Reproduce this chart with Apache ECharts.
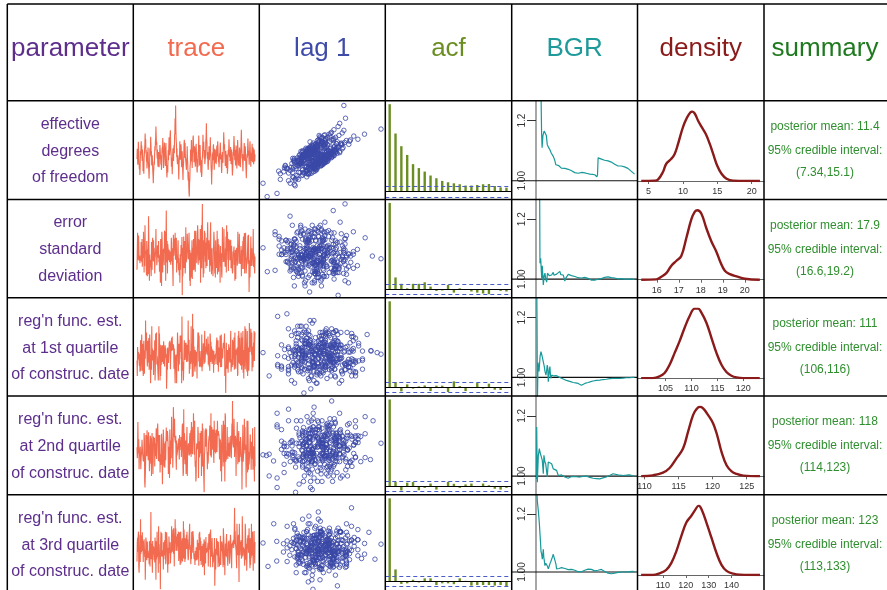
<!DOCTYPE html>
<html>
<head>
<meta charset="utf-8">
<script src="https://cdn.jsdelivr.net/npm/echarts@6/dist/echarts.min.js"></script>
<style>
  html, body { margin: 0; padding: 0; background: #fff; }
  #chart { width: 887px; height: 590px; }
</style>
</head>
<body>
<div id="chart"></div>
<script>
// ---- text content ----
const headers = ['parameter', 'trace', 'lag 1', 'acf', 'BGR', 'density', 'summary'];
const paramLabels = [
  ['effective', 'degrees', 'of freedom'],
  ['error', 'standard', 'deviation'],
  ["reg'n func. est.", 'at 1st quartile', 'of construc. date'],
  ["reg'n func. est.", 'at 2nd quartile', 'of construc. date'],
  ["reg'n func. est.", 'at 3rd quartile', 'of construc. date']
];
const postMean = ['11.4', '17.9', '111', '118', '123'];
const credInt = ['(7.34,15.1)', '(16.6,19.2)', '(106,116)', '(114,123)', '(113,133)'];

// ---- MCMC draws (thinned) ----
const traceDf = [
11.2,12.8,12.5,10.3,11.0,13.9,13.1,11.2,11.0,9.6,
10.1,8.7,9.9,12.4,11.8,12.1,14.0,12.6,13.3,11.4,
10.9,12.7,11.6,9.3,10.0,10.6,8.9,11.3,12.0,11.7,
13.5,15.2,13.8,14.3,12.1,12.6,10.8,11.5,9.7,10.4,
12.3,11.9,13.0,11.1,11.4,9.2,8.1,9.8,10.5,12.9,
11.6,12.2,14.7,13.6,11.9,12.4,10.2,10.9,11.8,10.7,
9.4,8.6,7.4,8.9,9.1,10.8,10.3,11.9,13.2,12.5,
13.9,14.4,16.3,14.8,13.4,13.9,12.0,11.3,12.7,10.6,
10.0,11.5,12.3,10.4,9.9,11.6,11.2,13.4,12.8,12.9,
11.1,10.3,11.8,9.5,10.2,12.4,13.0,12.2,14.5,13.1,
11.7,9.8,10.6,12.0,13.8,14.1,12.3,11.6,10.1,12.5,
13.7,11.9,11.2,9.0,8.3,9.7,10.2,9.1,11.3,12.6,
11.0,13.1,14.6,12.2,11.8,13.3,15.1,15.7,13.5,12.4,
11.9,10.0,11.4,10.8,8.8,10.5,12.2,12.9,11.3,10.9,
12.8,13.4,12.1,14.9,15.3,17.6,15.1,19.6,15.9,14.2,
13.6,11.5,12.9,10.9,10.4,11.8,12.0,10.7,9.6,8.0,
10.2,11.4,12.2,14.0,12.4,11.1,12.6,13.5,13.1,10.8,
9.9,10.6,12.4,10.5,9.2,7.9,9.8,10.4,11.7,13.6,
14.2,13.6,11.4,13.7,11.6,11.2,11.5,10.1,9.5,10.9,
11.3,13.2,11.2,10.6,8.4,7.8,9.2,7.0,5.8,5.3,
7.4,8.0,10.1,10.5,12.7,10.8,12.0,14.2,12.3,11.7,
9.8,11.9,12.4,14.5,14.9,13.5,12.9,10.7,12.8,13.2,
12.6,10.6,10.0,10.8,12.9,13.6,12.2,11.6,9.6,9.1,
10.6,11.2,10.0,12.2,12.7,14.9,12.8,12.3,10.2,11.5,
13.4,11.6,10.9,9.1,11.0,8.9,8.4,9.0,11.0,11.5,
12.8,15.0,13.0,12.5,13.9,11.8,11.3,12.6,10.4,10.1,
11.4,11.9,14.1,14.6,16.8,14.3,13.9,11.7,11.2,12.3,
10.1,9.5,10.9,11.3,13.2,11.0,10.7,11.9,12.5,14.6,
12.4,11.9,9.8,9.1,7.2,9.3,9.7,11.8,12.2,11.0,
13.1,13.5,12.0,11.7,9.5,11.4,12.8,10.6,12.6,11.5,
12.0,10.4,10.9,12.7,13.3,11.6,12.4,14.0,13.2,11.8,
10.7,11.3,9.9,10.5,12.1,11.2,12.9,13.8,12.5,11.1,
11.9,10.2,9.0,9.9,11.4,12.3,11.0,10.6,12.2,13.6,
15.4,14.1,12.8,13.5,12.0,11.2,10.1,11.7,12.5,11.4,
9.8,10.5,11.9,10.8,8.9,9.6,11.0,12.6,11.8,12.9,
14.3,13.0,11.5,12.2,10.9,11.6,13.1,12.0,10.4,11.1,
12.7,11.5,10.0,8.6,9.4,10.7,12.3,11.7,13.4,14.8,
13.7,12.2,11.0,12.6,11.3,10.2,11.9,13.3,12.1,10.8,
9.7,10.9,12.8,14.2,12.9,11.6,10.3,11.5,10.1,11.8,
13.0,12.4,11.2,9.9,10.8,12.5,13.9,15.8,14.0,12.6,
11.3,12.0,10.6,9.3,10.7,11.9,11.1,12.4,13.7,12.3,
10.9,11.8,13.2,12.1,10.5,9.4,8.2,9.7,11.2,12.0,
11.4,12.9,14.4,13.1,11.7,12.5,11.0,10.3,11.6,12.8,
14.0,12.6,11.3,10.0,11.5,12.2,10.9,12.4,13.6,12.1,
10.7,11.9,13.0,11.6,10.4,11.2,12.7,11.5,10.8,11.9
];
const traceSd = [
17.20,17.23,18.85,18.16,17.65,18.73,18.44,17.60,17.71,17.84,
17.49,17.79,17.71,17.60,18.44,17.91,17.53,18.57,17.33,18.27,
18.24,17.72,18.90,18.35,17.07,18.04,17.36,19.19,17.89,17.81,
18.06,17.42,16.95,18.49,18.15,16.90,17.53,18.11,16.99,19.60,
18.63,17.53,16.70,17.88,17.47,17.64,17.38,17.28,16.90,18.44,
18.52,17.20,18.47,18.63,17.92,17.60,18.52,17.56,18.18,17.86,
17.03,17.71,17.81,18.08,19.02,17.91,18.04,17.40,17.58,18.29,
17.96,18.06,17.74,18.49,17.53,17.88,17.11,17.28,17.83,16.61,
18.57,17.07,17.51,16.47,18.90,18.60,17.38,17.07,17.99,18.06,
18.15,17.84,17.40,18.95,18.73,17.97,18.90,16.70,18.49,19.85,
17.81,17.53,18.49,17.03,18.35,18.18,18.06,17.62,17.81,18.09,
17.53,17.86,18.01,17.88,17.42,17.69,18.63,18.42,17.58,18.16,
17.51,17.14,16.47,18.77,18.81,17.83,18.15,18.60,18.18,18.85,
17.64,18.08,17.64,18.63,17.07,17.83,17.79,17.49,18.15,18.52,
17.17,17.72,17.67,16.95,17.49,16.61,17.89,17.20,17.14,18.31,
18.29,17.83,18.66,16.05,18.18,16.90,17.58,17.99,18.69,17.28,
17.88,18.49,17.94,17.03,17.36,19.10,17.53,17.54,17.47,17.74,
18.81,18.27,17.96,18.15,17.67,18.42,18.85,18.06,16.70,18.08,
16.47,17.17,17.56,17.96,16.85,17.88,18.52,16.78,18.18,17.94,
17.17,18.57,17.20,18.24,17.92,18.95,17.23,17.11,18.08,18.95,
17.76,18.06,17.49,17.96,18.04,19.19,18.90,17.42,18.57,18.11,
18.15,17.62,18.54,17.51,19.02,16.61,18.69,17.76,19.19,17.26,
18.90,20.15,17.69,17.92,16.85,18.52,17.03,18.33,18.95,17.83,
18.85,17.56,18.42,17.26,17.74,18.11,18.63,17.36,18.73,19.33,
18.11,18.47,17.64,18.52,17.96,17.78,17.11,18.26,18.20,19.33,
17.38,17.88,16.99,18.16,17.17,17.53,17.42,16.90,18.15,18.26,
18.90,18.57,17.84,17.03,17.99,16.85,18.52,17.42,17.28,17.47,
17.65,18.95,16.99,17.14,18.57,18.49,17.11,18.33,17.91,17.53,
17.76,16.61,18.26,17.33,17.71,17.94,17.11,16.85,17.99,19.10,
17.81,18.11,17.54,17.88,19.02,17.89,17.56,17.71,17.33,18.15,
17.78,18.69,17.07,19.19,18.01,18.16,18.90,17.64,17.84,17.14,
18.57,18.35,18.15,18.52,17.62,18.42,18.20,18.54,17.26,17.94,
18.27,17.36,17.33,17.03,17.20,18.01,17.88,18.01,18.24,17.42,
17.84,16.70,17.88,18.09,16.78,17.97,17.60,18.18,17.88,17.38,
17.62,18.90,18.08,18.29,18.08,17.45,18.81,17.76,17.51,17.69,
17.45,18.04,18.26,16.90,18.08,18.13,17.23,18.04,18.49,18.33,
18.69,17.23,17.36,18.85,17.03,18.11,18.52,18.85,17.97,17.03,
17.28,17.23,17.67,17.79,18.20,18.73,17.47,18.77,17.67,16.20,
17.11,17.62,16.85,17.56,17.97,18.69,17.36,17.84,18.16,17.38,
17.71,17.76,17.84,19.02,17.33,17.76,17.92,17.26,17.03,17.79
];
const traceQ1 = [
109.9,106.9,112.5,112.4,110.1,111.5,111.6,111.6,108.8,111.2,
107.7,109.0,113.8,107.9,112.6,113.3,114.9,109.4,107.9,113.1,
109.8,106.9,107.9,113.7,110.9,107.3,110.6,111.8,110.2,117.6,
111.8,112.7,115.3,112.2,110.1,108.7,113.7,112.8,109.5,109.2,
114.2,108.1,109.5,114.9,113.3,113.5,105.5,108.8,111.0,108.1,
116.5,109.9,112.2,109.9,111.8,110.6,107.1,111.4,111.9,109.7,
113.8,106.0,108.2,115.1,115.1,111.9,115.3,109.1,110.8,110.2,
108.8,107.3,106.0,108.6,116.5,111.7,115.1,110.2,106.0,112.9,
106.9,110.3,109.0,112.4,112.8,109.6,109.8,112.8,112.8,109.2,
113.6,112.2,110.9,108.7,110.8,112.8,112.3,110.4,111.1,109.8,
104.4,106.9,112.2,108.1,112.4,110.7,109.4,110.1,111.7,113.4,
112.9,113.7,112.9,108.2,110.5,112.8,112.9,114.2,111.7,114.5,
112.6,111.9,112.4,113.0,112.5,108.3,112.2,110.6,107.7,105.5,
109.1,111.0,111.2,110.6,105.5,110.8,111.3,115.3,113.7,110.2,
107.8,111.0,113.1,109.1,113.1,112.2,114.7,111.5,114.7,110.1,
110.5,105.5,118.4,111.4,107.9,109.0,109.6,106.0,108.8,111.7,
113.8,110.4,110.0,110.5,113.3,111.6,113.3,110.1,109.6,112.9,
110.8,112.4,109.7,117.6,111.7,111.1,113.9,107.3,109.0,108.2,
111.0,111.7,109.2,116.5,110.2,109.6,113.0,106.7,118.9,111.1,
106.9,116.0,109.8,112.6,109.6,108.5,107.7,111.9,108.7,111.6,
109.7,111.5,109.5,106.4,112.0,112.8,115.3,114.5,115.3,109.7,
114.7,108.7,111.7,108.6,110.3,108.8,109.8,111.7,108.6,114.9,
107.8,111.1,108.7,111.3,113.2,112.7,110.8,109.2,113.1,115.6,
109.5,111.0,111.4,112.6,111.1,114.1,111.5,111.2,112.5,110.9,
114.5,109.1,113.1,110.3,108.7,109.7,107.9,115.1,114.5,109.6,
113.5,110.1,112.6,110.1,109.2,110.4,112.0,112.1,110.6,107.5,
111.7,109.0,110.3,111.0,110.8,110.3,111.2,109.2,112.6,112.4,
114.3,112.4,109.0,113.1,113.8,107.7,110.6,112.4,109.5,112.4,
111.2,114.7,108.6,108.6,111.8,114.9,108.6,112.2,111.2,110.3,
110.8,112.7,113.3,113.6,112.2,112.1,115.1,106.9,108.2,108.9,
103.6,111.4,113.3,109.5,108.3,111.2,111.9,111.4,107.5,109.5,
113.0,111.5,112.4,110.0,109.5,111.5,113.0,115.6,107.7,108.6,
110.1,110.2,108.6,113.9,109.0,110.8,113.6,110.4,114.3,108.1,
109.2,115.3,110.0,109.7,108.3,112.0,111.0,111.5,111.2,112.4,
106.9,107.3,114.7,109.5,115.6,114.2,109.3,114.2,109.2,111.3,
108.9,108.8,115.3,111.7,108.1,108.1,114.3,109.0,115.6,107.5,
111.9,106.4,110.6,108.7,108.4,116.5,108.2,111.8,116.0,112.7,
112.9,108.2,107.7,115.6,106.9,108.7,112.4,112.5,107.9,110.0,
117.1,114.9,111.5,113.5,112.5,116.0,113.2,111.0,115.3,107.8,
111.6,112.6,108.6,109.8,113.3,111.7,115.6,109.8,113.7,115.3
];
const traceQ2 = [
118.0,116.4,117.7,121.7,118.3,117.1,119.2,114.8,116.8,116.6,
117.6,118.1,116.3,114.8,116.5,117.0,117.7,119.1,118.0,117.1,
116.6,116.0,116.9,115.9,120.1,119.3,113.0,112.1,113.8,115.5,
119.8,117.3,119.6,116.7,120.5,118.5,119.6,117.0,116.1,120.2,
120.1,117.6,114.5,115.9,115.9,119.7,119.2,115.6,119.4,113.8,
118.6,120.1,118.2,118.0,114.1,116.7,119.6,118.3,119.1,119.4,
115.2,118.6,118.4,116.7,118.8,120.8,116.3,118.2,119.8,119.6,
121.5,119.6,116.0,118.4,119.8,115.9,118.4,119.8,114.3,117.0,
115.9,115.4,116.6,120.0,119.0,115.5,112.6,116.0,116.6,120.6,
119.0,115.2,116.0,118.6,115.0,116.2,118.9,116.1,116.0,120.9,
119.3,120.1,118.9,120.4,119.6,118.6,114.1,118.1,117.1,117.2,
113.5,120.6,117.9,115.5,118.1,119.0,116.4,122.5,119.6,119.4,
117.9,115.0,117.2,123.9,121.9,121.9,119.5,122.2,119.2,119.0,
118.7,119.7,116.4,114.7,119.0,116.8,117.1,117.1,117.9,118.6,
117.7,119.3,117.3,116.2,119.8,118.1,118.1,119.0,117.6,119.5,
116.6,117.8,118.8,121.2,121.5,116.1,113.8,114.3,123.6,116.2,
120.1,119.5,115.5,118.6,119.0,116.8,114.1,117.1,119.4,121.0,
113.8,117.1,116.8,118.1,118.6,118.6,118.4,116.8,119.4,120.1,
117.0,117.0,120.5,116.6,121.7,117.1,121.0,119.7,117.0,117.0,
120.1,123.0,120.0,119.6,116.9,121.9,116.5,115.1,116.0,113.0,
113.5,117.7,118.6,117.7,118.2,117.8,121.0,120.2,113.5,118.9,
116.5,116.3,116.8,120.1,118.2,117.1,117.8,120.4,113.8,118.1,
118.7,121.5,115.2,120.8,115.9,115.1,115.1,111.4,116.9,117.3,
120.2,120.6,118.1,120.8,118.9,120.6,118.2,117.0,114.8,117.3,
115.6,116.1,118.7,119.3,119.7,119.0,121.2,117.9,116.8,117.1,
123.0,116.5,117.1,121.0,117.6,120.6,118.3,117.8,120.6,116.9,
115.7,121.9,118.7,120.5,117.3,120.1,117.1,117.3,120.6,118.6,
117.3,118.1,121.9,119.7,120.1,120.4,119.7,120.0,118.2,116.2,
119.3,116.3,119.1,114.5,118.7,116.8,113.0,121.3,119.8,119.7,
118.7,115.2,121.9,121.0,121.3,115.8,117.6,113.0,123.0,122.5,
115.9,116.7,116.2,117.0,117.7,121.0,117.7,116.3,118.2,118.6,
116.7,119.5,119.3,117.1,116.6,118.7,118.0,119.7,118.4,116.4,
119.2,121.5,119.2,124.8,118.6,118.4,118.0,119.0,122.2,119.7,
116.6,119.4,117.4,119.7,118.8,113.8,118.2,118.3,119.6,121.7,
118.4,115.5,120.1,115.9,120.4,116.5,115.8,118.9,116.6,117.6,
119.5,119.0,117.4,116.0,117.0,111.8,116.8,118.6,121.3,115.9,
115.9,117.5,117.1,122.2,118.7,121.0,117.6,118.4,116.8,112.1,
117.0,117.6,121.9,116.6,114.3,121.9,118.8,114.7,117.3,115.5,
116.3,116.7,118.7,119.9,117.6,118.0,114.7,118.8,116.3,117.3,
116.8,120.8,114.7,118.2,116.0,118.1,118.1,113.0,121.0,115.2
];
const traceQ3 = [
117.8,126.2,128.0,121.9,128.9,130.7,115.7,113.0,117.8,121.8,
129.4,117.6,136.1,121.0,129.1,121.9,125.3,123.1,130.4,122.3,
126.7,117.6,124.4,125.2,127.4,127.8,119.8,122.8,109.9,118.0,
128.2,126.9,121.9,118.4,123.4,126.4,119.3,122.4,122.3,119.5,
121.4,116.6,126.5,121.6,115.7,126.9,122.3,139.2,118.8,125.6,
123.7,118.2,113.0,126.7,118.4,121.5,124.4,124.6,124.5,120.8,
117.4,128.2,124.1,120.4,109.9,126.5,118.8,122.3,130.7,121.5,
119.8,123.8,113.0,133.0,124.4,125.3,121.4,116.9,120.7,105.8,
125.8,130.7,120.1,125.8,130.0,119.9,122.3,121.4,122.7,114.4,
126.1,120.4,125.6,125.6,126.9,118.8,130.7,116.6,117.6,118.0,
130.4,128.0,125.5,118.6,113.0,123.7,117.8,116.6,128.6,124.0,
122.6,121.4,126.1,116.9,117.1,123.3,121.5,133.0,128.2,122.0,
123.1,123.8,131.6,121.2,132.2,126.9,115.7,128.4,122.3,136.1,
125.6,132.2,127.2,122.6,128.6,122.3,123.6,129.7,124.2,128.9,
130.7,118.0,121.2,129.1,130.4,120.4,116.3,128.9,130.7,117.1,
126.9,121.2,118.2,127.8,117.8,122.0,122.9,135.2,119.1,131.6,
126.7,121.1,117.6,127.8,118.8,127.8,125.6,129.4,123.2,130.7,
125.2,127.4,120.8,118.4,119.6,120.1,128.6,130.7,134.1,122.9,
124.9,125.0,116.6,124.1,118.8,130.7,130.4,121.6,127.8,131.0,
129.1,127.2,120.8,118.8,121.2,119.6,116.3,122.3,120.5,118.2,
124.0,121.5,121.0,118.4,127.2,120.4,125.8,119.0,123.6,116.0,
130.0,122.9,130.7,122.8,128.2,118.0,126.5,116.3,119.5,122.7,
124.5,122.6,115.3,125.5,116.0,119.1,124.9,127.4,111.9,125.5,
122.7,126.4,116.9,128.4,121.4,122.0,121.0,123.6,122.0,122.2,
125.9,115.7,123.4,129.7,126.9,126.4,122.9,130.4,115.3,131.6,
123.2,125.8,119.9,124.5,128.0,128.6,115.3,119.8,117.4,120.5,
121.5,122.4,128.0,107.3,115.7,123.3,114.4,122.9,120.8,127.8,
125.0,124.4,120.3,126.7,115.3,126.2,125.9,117.4,118.8,115.7,
116.3,120.7,128.9,116.3,117.1,126.4,122.2,126.4,125.8,122.7,
119.3,115.3,132.2,133.0,126.1,116.3,120.5,111.9,121.9,125.6,
120.1,121.2,127.6,129.7,119.6,123.2,123.2,116.0,125.0,126.4,
124.8,126.9,119.0,116.9,119.6,119.3,129.4,127.0,122.3,119.6,
114.9,125.6,123.4,125.6,125.3,125.8,127.0,123.6,122.9,132.2,
141.0,125.3,131.0,125.5,124.9,122.4,122.9,114.9,134.1,127.2,
120.5,124.8,125.5,129.4,119.3,109.0,134.1,127.2,120.5,119.9,
126.2,124.5,127.0,119.0,123.6,119.5,137.4,130.4,120.3,124.0,
124.8,123.2,122.8,119.1,116.0,119.8,134.1,131.6,118.6,121.2,
125.5,113.8,120.5,127.8,123.3,129.1,125.6,121.6,128.2,132.2,
122.6,123.2,114.9,127.8,116.3,121.6,119.3,134.1,120.3,122.8,
128.9,130.7,120.7,113.8,124.6,123.1,131.0,122.2,116.9,126.2
];

// ---- autocorrelation, lags 0..20 ----
const acfDf = [1, 0.665, 0.52, 0.42, 0.315, 0.27, 0.23, 0.185, 0.154, 0.123, 0.108, 0.096, 0.085, 0.07, 0.07, 0.077, 0.085, 0.088, 0.065, 0.05, 0.046];
const acfSd = [1, 0.136, 0.062, 0.01, 0.062, 0.062, 0.08, 0.03, -0.02, -0.015, 0.05, -0.04, 0.01, -0.01, -0.027, -0.04, -0.05, -0.058, -0.01, -0.02, -0.027];
const acfQ1 = [1, 0.062, -0.046, 0.035, -0.015, 0.012, 0.023, -0.043, 0.02, 0.02, -0.054, 0.07, 0.016, -0.043, -0.008, 0.05, -0.015, 0.043, -0.027, -0.03, -0.008];
const acfQ2 = [1, 0.047, -0.05, 0.04, 0.047, -0.047, -0.02, 0.03, -0.04, -0.01, 0.05, 0.027, -0.02, 0.02, 0.03, -0.01, 0.03, 0.01, -0.03, -0.04, -0.02];
const acfQ3 = [1, 0.147, -0.027, -0.02, 0.023, -0.01, 0.04, 0.04, -0.04, -0.02, -0.02, -0.03, 0.04, 0.01, -0.047, -0.04, -0.04, -0.04, -0.047, -0.04, -0.06];
const acfBand = 0.063;

// ---- Brooks-Gelman-Rubin statistic: [iteration, BGR] ----
const bgrDf = [[49,1.30],[55,1.16],[60,1.11],[68,1.15],[80,1.165],[90,1.16],[95,1.17],[102,1.15],[111,1.12],[125,1.11],[137,1.103],[150,1.092],[160,1.088],[170,1.081],[183,1.07],[196,1.053],[210,1.051],[225,1.05],[235,1.048],[250,1.042],[268,1.037],[285,1.041],[300,1.04],[318,1.038],[333,1.037],[350,1.033],[366,1.031],[382,1.027],[399,1.022],[415,1.025],[432,1.026],[455,1.028],[480,1.026],[505,1.024],[530,1.022],[555,1.021],[579,1.02],[592,1.016],[600,1.013],[606,1.02],[612,1.076],[620,1.072],[628,1.07],[645,1.072],[660,1.07],[676,1.068],[693,1.067],[710,1.066],[726,1.064],[742,1.062],[759,1.059],[775,1.055],[791,1.051],[808,1.049],[824,1.048],[840,1.049],[857,1.048],[873,1.046],[889,1.044],[905,1.041],[922,1.037],[940,1.031],[955,1.026],[971,1.022]];
const bgrSd = [[7,1.45],[15,1.28],[23,1.35],[30,1.27],[36,1.30],[39,1.053],[46,1.07],[52,1.03],[56,1.003],[62,1.045],[65,1.042],[72,0.981],[80,1.01],[88,1.02],[96,1.0],[105,0.99],[113,1.02],[121,1.026],[130,1.012],[137,1.009],[146,1.018],[154,1.014],[162,1.02],[170,1.023],[178,1.013],[186,1.009],[195,1.016],[203,1.017],[220,1.021],[235,1.026],[244,1.015],[252,1.009],[260,1.016],[268,1.014],[276,1.005],[284,0.994],[292,1.003],[301,1.009],[318,1.016],[334,1.014],[350,1.012],[366,1.012],[383,1.009],[399,1.006],[416,1.005],[432,1.003],[448,1.004],[464,1.001],[480,1.006],[497,1.009],[513,1.003],[530,0.998],[546,0.997],[562,0.994],[578,0.997],[595,0.998],[611,1.0],[628,1.001],[644,1.002],[661,1.003],[677,1.006],[693,1.009],[710,1.008],[726,1.007],[742,1.005],[759,1.003],[775,1.004],[791,1.003],[808,1.001],[824,1.0],[840,1.002],[857,1.001],[873,1.0],[889,1.001],[905,1.0],[922,1.0],[940,1.001],[955,1.0],[971,0.999]];
const bgrQ1 = [[5,1.40],[10,1.2],[14,0.92],[20,1.05],[30,1.02],[40,1.07],[49,1.086],[62,1.069],[72,1.052],[82,1.036],[88,1.021],[98,1.008],[105,1.024],[111,1.041],[116,1.03],[121,0.986],[131,1.024],[137,1.036],[142,1.01],[147,0.997],[155,1.008],[164,1.013],[175,1.005],[186,1.002],[200,1.006],[219,1.008],[235,1.0],[252,0.997],[268,0.995],[284,0.991],[300,0.99],[317,0.988],[340,0.986],[366,0.983],[390,0.982],[415,0.98],[430,0.977],[448,0.974],[465,0.977],[481,0.98],[497,0.981],[513,0.983],[540,0.986],[562,0.988],[595,0.99],[628,0.991],[660,0.993],[693,0.994],[726,0.996],[759,0.997],[791,0.997],[824,0.997],[857,0.998],[889,0.999],[922,0.999],[950,1.0],[971,1.0]];
const bgrQ2 = [[5,0.99],[7,1.163],[13,0.98],[23,1.069],[33,1.091],[39,1.08],[49,1.074],[56,1.06],[62,1.052],[72,1.008],[78,1.069],[88,1.047],[96,1.04],[105,1.036],[111,0.997],[121,1.047],[130,1.05],[137,1.052],[154,1.041],[170,1.024],[186,1.03],[203,1.019],[219,1.002],[235,1.007],[252,1.004],[268,1.0],[284,0.997],[300,0.995],[317,0.993],[340,0.997],[366,0.999],[400,0.998],[432,0.997],[465,0.999],[497,1.0],[530,0.996],[562,0.993],[595,0.992],[628,0.991],[660,0.994],[693,0.997],[710,1.0],[726,1.002],[742,1.005],[759,1.008],[775,1.006],[808,1.004],[830,1.003],[857,1.002],[890,1.003],[922,1.004],[945,1.002],[971,1.0]];
const bgrQ3 = [[0,1.35],[13,1.244],[23,1.211],[33,1.167],[39,1.133],[45,1.10],[49,1.072],[56,1.061],[62,1.044],[67,1.06],[72,1.078],[77,1.05],[82,1.039],[88,1.022],[96,1.03],[105,1.033],[113,1.02],[121,1.011],[130,1.02],[137,1.028],[146,1.036],[154,1.044],[162,1.052],[170,1.061],[178,1.058],[186,1.056],[196,1.028],[203,1.011],[210,1.008],[219,1.006],[227,1.012],[235,1.017],[252,1.015],[268,1.013],[284,1.012],[301,1.011],[318,1.008],[334,1.006],[350,1.009],[366,1.011],[383,1.006],[399,1.002],[416,1.001],[432,1.0],[448,1.001],[464,1.002],[480,1.006],[497,1.009],[513,1.01],[530,1.011],[546,1.009],[562,1.006],[578,1.004],[595,1.002],[611,1.006],[628,1.011],[644,1.009],[661,1.006],[677,1.002],[693,0.998],[710,0.996],[726,0.994],[742,0.994],[759,0.994],[775,0.996],[791,0.998],[808,0.999],[824,1.0],[857,1.0],[889,1.0],[922,1.001],[955,1.002],[971,1.0]];

// ---- posterior density curves (relative height) ----
const densXDf = [3.93,5.88,6.36,7.09,7.58,8.31,8.80,9.29,9.77,10.26,10.89,11.33,11.72,12.21,12.70,13.33,13.91,14.40,14.98,15.62,16.35,17.32,21.21];
const densYDf = [0,0.005,0.019,0.129,0.248,0.319,0.39,0.533,0.70,0.843,0.962,1.0,0.971,0.867,0.781,0.676,0.533,0.39,0.224,0.105,0.033,0.005,0];
const densXSd = [15.29,15.97,16.20,16.43,16.65,16.88,17.11,17.34,17.57,17.72,17.84,18.02,18.25,18.48,18.71,18.89,19.09,19.32,19.62,20.0,20.68];
const densYSd = [0,0.005,0.042,0.094,0.198,0.269,0.34,0.60,0.87,0.976,1.0,0.953,0.74,0.55,0.40,0.25,0.13,0.08,0.047,0.014,0];
const densXQ1 = [100.28,102.54,103.84,104.81,105.78,106.75,107.71,108.68,109.65,110.62,111.27,111.92,112.89,113.86,114.83,115.80,116.76,117.73,118.70,120.0,123.2];
const densYQ1 = [0,0,0.024,0.072,0.192,0.361,0.529,0.721,0.889,0.995,0.995,0.938,0.793,0.577,0.361,0.192,0.087,0.034,0.01,0,0];
const densXQ2 = [109.51,111.23,112.71,113.69,114.67,115.66,116.39,117.13,117.62,118.12,118.61,119.35,120.08,120.67,121.31,122.05,122.79,123.53,124.51,126.97];
const densYQ2 = [0,0.014,0.053,0.12,0.255,0.399,0.639,0.88,0.966,1.0,0.976,0.88,0.76,0.591,0.351,0.159,0.072,0.034,0.01,0];
const densXQ3 = [100.48,105.6,108.54,111.46,113.66,115.86,118.05,120.25,122.45,123.91,125.67,126.84,129.03,131.23,133.43,135.62,137.82,140.75,143.67,152.46];
const densYQ3 = [0,0,0.024,0.073,0.171,0.341,0.561,0.756,0.854,0.927,1.0,0.951,0.756,0.537,0.317,0.146,0.059,0.02,0.005,0];
const densTicks = [[5, 10, 15, 20], [16, 17, 18, 19, 20], [105, 110, 115, 120], [110, 115, 120, 125], [110, 120, 130, 140]];

// ---- assemble ----
const traces = [traceDf, traceSd, traceQ1, traceQ2, traceQ3];
const acfs = [acfDf, acfSd, acfQ1, acfQ2, acfQ3];
const bgrs = [bgrDf, bgrSd, bgrQ1, bgrQ2, bgrQ3];
const densXs = [densXDf, densXSd, densXQ1, densXQ2, densXQ3];
const densYs = [densYDf, densYSd, densYQ1, densYQ2, densYQ3];

// table geometry
const colX = [7.3, 133.3, 259.3, 385.3, 511.7, 637.5, 764, 886];
const rowY = [4, 100.7, 199.4, 297.8, 396, 494.8, 593.3];
const traceInset = [[4.8, 2.8], [4.5, 2.5], [16, 3], [5, 2.5], [13, 4]];
const acfMin = [-0.088, -0.1, -0.1, -0.1, -0.1];
const bgrAxisX = 536;
const densRange = [[3.39, 21.8], [15.12, 20.87], [99.57, 124.02], [108.97, 127.55], [98.9, 154.2]];

const headerColors = ['#5D2E8C', '#F26A4F', '#3F4BA8', '#6B8E23', '#1F9A9A', '#8B1A1A', '#1F7A1F'];
const labelColor = '#5D2E8C';
const summaryColor = '#2F8F2F';
const FONT = 'Liberation Sans';

const grid = [], xAxis = [], yAxis = [], series = [];
function addGrid(g, xa, ya) {
  grid.push(g);
  const i = grid.length - 1;
  xa.gridIndex = i; ya.gridIndex = i;
  xAxis.push(xa); yAxis.push(ya);
  return i;
}
const hidden = (o) => Object.assign({ type: 'value', show: false }, o);
const bgrMin = 0.938, bgrMax = 1.266;

for (let r = 0; r < 5; r++) {
  const top = rowY[r + 1], bot = rowY[r + 2], h = bot - top;
  const tr = traces[r];
  const lo = Math.min(...tr), hi = Math.max(...tr);
  const [it, ib] = traceInset[r];

  // trace
  let gi = addGrid({ left: 137, top: top + it, width: 118, height: h - it - ib },
    hidden({ min: 1, max: tr.length }), hidden({ min: lo, max: hi }));
  series.push({
    type: 'line', xAxisIndex: gi, yAxisIndex: gi, silent: true,
    data: tr.map((v, i) => [i + 1, v]), symbol: 'none',
    lineStyle: { color: '#F26A4F', width: 1.1 }
  });

  // lag-1 scatter
  gi = addGrid({ left: 263, top: top + it, width: 118, height: h - it - ib },
    hidden({ min: lo, max: hi }), hidden({ min: lo, max: hi }));
  series.push({
    type: 'scatter', xAxisIndex: gi, yAxisIndex: gi, silent: true,
    data: tr.slice(0, -1).map((v, i) => [v, tr[i + 1]]),
    symbolSize: 4.5,
    itemStyle: { color: 'rgba(0,0,0,0)', borderColor: '#3A47A6', borderWidth: 1 }
  });

  // acf
  gi = addGrid({ left: colX[3], top: top + 3.5, width: colX[4] - colX[3], height: h - 3.5 },
    hidden({ min: -0.75, max: 20.9 }), hidden({ min: acfMin[r], max: 1 }));
  const bandStyle = { color: '#4A5CC8', type: [4, 3], width: 1.2 };
  series.push({
    type: 'bar', xAxisIndex: gi, yAxisIndex: gi, silent: true,
    data: acfs[r].map((v, i) => [i, v]), barWidth: 2.4,
    itemStyle: { color: '#6B8E23' },
    markLine: {
      silent: true, symbol: 'none', label: { show: false },
      data: [
        { yAxis: 0, lineStyle: { color: '#000', width: 1.2, type: 'solid' } },
        { yAxis: acfBand, lineStyle: bandStyle },
        { yAxis: -acfBand, lineStyle: bandStyle }
      ]
    }
  });

  // BGR: reference line at 1 across the whole cell
  gi = addGrid({ left: colX[4], top: top, width: colX[5] - colX[4], height: h },
    hidden({ min: 0, max: 1 }), hidden({ min: bgrMin, max: bgrMax }));
  series.push({
    type: 'line', xAxisIndex: gi, yAxisIndex: gi, silent: true, symbol: 'none',
    data: [[0, 1], [1, 1]], lineStyle: { color: '#111', width: 1.2 }
  });
  // BGR curve with its own axis
  gi = addGrid({ left: bgrAxisX, top: top, width: colX[5] - bgrAxisX, height: h },
    hidden({ min: 0, max: 1000 }),
    {
      type: 'value', min: bgrMin, max: bgrMax,
      axisLine: { show: true, lineStyle: { color: '#8a8a8a', width: 1.5 } },
      axisTick: { show: true, customValues: [1.2], length: 9, lineStyle: { color: '#333' } },
      axisLabel: {
        show: true, customValues: [1, 1.2], rotate: 90, margin: 9, fontSize: 10, color: '#333',
        formatter: (v) => (Math.abs(v - 1) < 1e-9 ? '1.00' : '1.2')
      },
      splitLine: { show: false }
    });
  series.push({
    type: 'line', xAxisIndex: gi, yAxisIndex: gi, silent: true, clip: true,
    data: bgrs[r], symbol: 'none',
    lineStyle: { color: '#17999A', width: 1.2 }
  });

  // density
  gi = addGrid({ left: colX[5], top: top + 10.8, width: colX[6] - colX[5], height: 69.5 },
    {
      type: 'value', min: densRange[r][0], max: densRange[r][1],
      axisLine: { show: true, onZero: false, lineStyle: { color: '#666', width: 1 } },
      axisTick: { show: true, customValues: densTicks[r], length: 3, lineStyle: { color: '#666' } },
      axisLabel: { show: true, customValues: densTicks[r], fontSize: 9, color: '#333', margin: 6 },
      splitLine: { show: false }
    },
    hidden({ min: 0, max: (v) => v.max }));
  series.push({
    type: 'line', xAxisIndex: gi, yAxisIndex: gi, silent: true, clip: true,
    data: densXs[r].map((x, i) => [x, densYs[r][i]]), symbol: 'none', smooth: 0.4,
    lineStyle: { color: '#8B1A1A', width: 2.4 }
  });
}

// text and table rules
const elements = [];
function text(x, y, str, size, color) {
  elements.push({
    type: 'text', x: x, y: y, z: 50, silent: true,
    style: {
      text: str, fill: color, fontSize: size, fontFamily: FONT,
      align: 'center', verticalAlign: 'middle',
      textAlign: 'center', textVerticalAlign: 'middle'
    }
  });
}
headers.forEach((t, c) => text((colX[c] + colX[c + 1]) / 2, 49, t, 26, headerColors[c]));
for (let r = 0; r < 5; r++) {
  const top = rowY[r + 1];
  paramLabels[r].forEach((t, j) => text(70.3, top + 23.6 + j * 26.8, t, 16, labelColor));
  text(825, top + 26, 'posterior mean: ' + postMean[r], 12, summaryColor);
  text(825, top + 50, '95% credible interval:', 12, summaryColor);
  text(825, top + 72, credInt[r], 12, summaryColor);
}
function rule(x1, y1, x2, y2) {
  elements.push({
    type: 'line', z: 100, silent: true,
    shape: { x1: x1, y1: y1, x2: x2, y2: y2 },
    style: { stroke: '#000', lineWidth: 1.5 }
  });
}
for (let i = 0; i < 6; i++) rule(colX[0], rowY[i], 887, rowY[i]);
for (let i = 0; i < 7; i++) rule(colX[i], rowY[0], colX[i], 590);

const chart = echarts.init(document.getElementById('chart'));
chart.setOption({
  animation: false,
  backgroundColor: '#fff',
  textStyle: { fontFamily: FONT },
  grid: grid,
  xAxis: xAxis,
  yAxis: yAxis,
  series: series,
  graphic: { elements: elements }
});
</script>
</body>
</html>
